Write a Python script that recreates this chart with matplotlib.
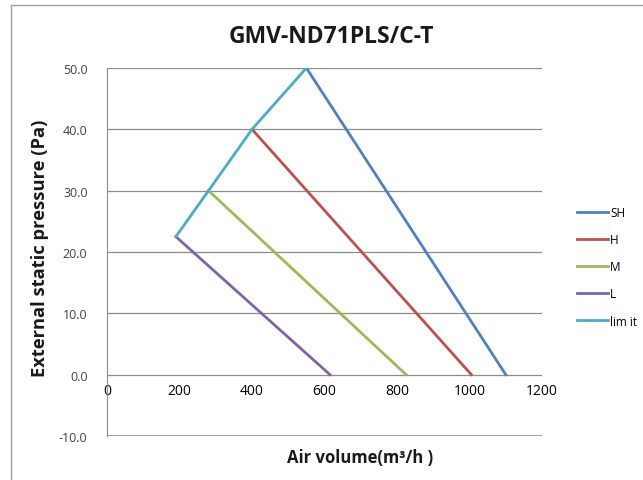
import matplotlib.pyplot as plt
from matplotlib.lines import Line2D

plt.rcParams['font.family'] = ['Open Sans', 'DejaVu Sans']

# data
sh_x = [550, 1100]
sh_y = [50.0, 0.0]
h_x = [400, 1005]
h_y = [40.0, 0.0]
m_x = [280, 825]
m_y = [30.0, 0.0]
l_x = [190, 615]
l_y = [22.5, 0.0]
limit_x = [190, 280, 400, 550]
limit_y = [22.5, 30.0, 40.0, 50.0]

x_ticks = [0, 200, 400, 600, 800, 1000, 1200]
y_ticks = [-10, 0, 10, 20, 30, 40, 50]

fig = plt.figure(figsize=(6.43, 4.81), dpi=100)
ax = fig.add_axes([0.1664, 0.0915, 0.843 - 0.1664, 0.8566 - 0.0915])

grid_col = '#8c8c8c'
for yv in y_ticks[1:]:
    ax.axhline(yv, color=grid_col, lw=0.9, zorder=1)

ax.plot(sh_x, sh_y, color='#4F81BD', lw=2.0, label='SH', zorder=3)
ax.plot(h_x, h_y, color='#C0504D', lw=2.0, label='H', zorder=3)
ax.plot(m_x, m_y, color='#9BBB59', lw=2.0, label='M', zorder=3)
ax.plot(l_x, l_y, color='#8064A2', lw=2.0, label='L', zorder=3)
ax.plot(limit_x, limit_y, color='#4BACC6', lw=2.0, label='lim it', zorder=4)

ax.set_xlim(0, 1200)
ax.set_ylim(-10, 50)
ax.set_yticks(y_ticks)
ax.set_yticklabels([f"{v:.1f}" for v in y_ticks], fontsize=9, color='#404040')
ax.set_xticks(x_ticks)
ax.set_xticklabels([str(v) for v in x_ticks], fontsize=9, color='#404040')
ax.spines['bottom'].set_position(('data', 0))
ax.spines['bottom'].set_visible(False)
ax.spines['top'].set_visible(False)
ax.spines['right'].set_visible(False)
ax.spines['left'].set_color(grid_col)
ax.axhline(-10, color=grid_col, lw=1.2, zorder=1)
ax.tick_params(axis='y', length=0, pad=14)
ax.tick_params(axis='x', length=0, pad=6)

fig.text(0.515, 0.923, "GMV-ND71PLS/C-T", ha='center', va='center',
         fontsize=16.5, fontweight='bold', color='#1a1a1a')
fig.text(0.062, 0.484, "External static pressure (Pa)", rotation=90,
         ha='center', va='center', fontsize=13.2, fontweight='bold', color='#1a1a1a')
fig.text(0.56, 0.047, "Air volume(m³/h )", ha='center', va='center',
         fontsize=12, fontweight='bold', color='#1a1a1a')

ax.legend(loc='upper left', bbox_to_anchor=(1.056, 0.654), frameon=False,
          fontsize=8.5, handlelength=2.6, handletextpad=0.2, labelspacing=1.2)

# outer chart border (left and top)
fig.add_artist(Line2D([11 / 643, 11 / 643], [0, 1 - 6 / 481], color='#a0a0a0', lw=1))
fig.add_artist(Line2D([11 / 643, 1], [1 - 6 / 481, 1 - 6 / 481], color='#a0a0a0', lw=1))

fig.savefig('out.png', dpi=100)
